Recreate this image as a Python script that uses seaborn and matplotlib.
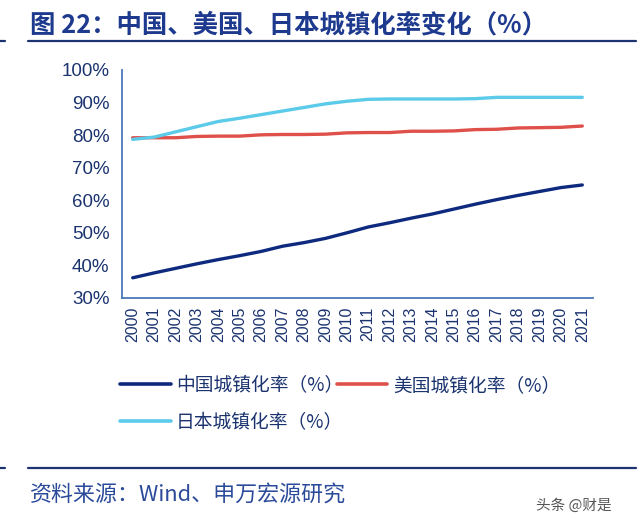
import matplotlib
matplotlib.use("Agg")
import matplotlib.pyplot as plt
import seaborn as sns
import pandas as pd
import numpy as np
from matplotlib.ticker import FixedLocator, PercentFormatter
from matplotlib.lines import Line2D

years = [str(y) for y in range(2000, 2022)]
china = [36.2, 37.7, 39.1, 40.5, 41.8, 43.0, 44.3, 45.9, 47.0, 48.3, 50.0,
         51.8, 53.1, 54.5, 55.8, 57.3, 58.8, 60.2, 61.5, 62.7, 63.9, 64.7]
usa = [79.2, 79.2, 79.2, 79.6, 79.7, 79.7, 80.1, 80.2, 80.2, 80.3, 80.7,
       80.8, 80.8, 81.2, 81.2, 81.3, 81.7, 81.8, 82.2, 82.3, 82.4, 82.8]
japan = [78.7, 79.4, 81.0, 82.6, 84.2, 85.2, 86.3, 87.4, 88.5, 89.6, 90.4,
         91.0, 91.1, 91.1, 91.1, 91.1, 91.2, 91.6, 91.6, 91.6, 91.6, 91.6]
series_names = ["中国城镇化率（%）", "美国城镇化率（%）", "日本城镇化率（%）"]
colors = ["#0D2A7E", "#E0504A", "#5CCBEA"]
title = "图 22：中国、美国、日本城镇化率变化（%）"
source = "资料来源：Wind、申万宏源研究"

df = pd.DataFrame({
    "year": years * 3,
    "value": china + usa + japan,
    "series": [series_names[0]] * len(years) + [series_names[1]] * len(years) + [series_names[2]] * len(years),
})

sns.set_style("white")
plt.rcParams["font.family"] = ["Noto Sans CJK SC", "DejaVu Sans"]
num_font = ["Liberation Sans", "DejaVu Sans"]

W, H = 640, 526
fig = plt.figure(figsize=(W / 100, H / 100), dpi=100)
ax = fig.add_axes([122 / W, 1 - 298 / H, (593 - 122) / W, (298 - 70) / H])

sns.lineplot(data=df, x="year", y="value", hue="series", palette=colors,
             hue_order=series_names, linewidth=2.4, ax=ax, legend=False, sort=False)

axis_c = "#4A78B8"
text_c = "#1B3470"
ax.set_ylim(30, 100)
ax.set_xlim(-0.5, len(years) - 0.5)
ax.set_yticks(np.arange(30, 101, 10))
ax.yaxis.set_major_formatter(PercentFormatter(decimals=0))
ax.set_xticks(range(len(years)))
ax.set_xticklabels(years, rotation=90)
ax.xaxis.set_minor_locator(FixedLocator(np.arange(-0.5, len(years), 1)))
ax.tick_params(axis="x", which="major", length=0, pad=6, labelsize=11.5, labelcolor=text_c)
ax.tick_params(axis="x", which="minor", length=5, width=1.2, color=axis_c, direction="out")
ax.tick_params(axis="y", which="major", length=5, width=1.2, color=axis_c, direction="out",
               labelsize=13.5, labelcolor=text_c, pad=4)
for lab in ax.get_xticklabels() + ax.get_yticklabels():
    lab.set_family(num_font)
for s in ["top", "right"]:
    ax.spines[s].set_visible(False)
for s in ["left", "bottom"]:
    ax.spines[s].set_color(axis_c)
    ax.spines[s].set_linewidth(1.3)
ax.set_xlabel("")
ax.set_ylabel("")
ax.grid(False)

# legend (row-wise order: China, US / Japan)
order = [0, 2, 1]
handles = [Line2D([0], [0], color=colors[i], lw=2.6) for i in order]
labels = [series_names[i] for i in order]
leg = fig.legend(handles, labels, ncol=2, loc="upper left",
                 bbox_to_anchor=(103 / W, 1 - 358 / H), frameon=False,
                 fontsize=13.5, handlelength=2.7, handletextpad=0.3,
                 columnspacing=-0.35, labelspacing=0.85)
for t in leg.get_texts():
    t.set_color(text_c)

# title and rules
title_c = "#1E3A8E"
fig.text(30 / W, 1 - 25 / H, title, fontsize=18.3, fontweight="bold", color=title_c,
         va="center", ha="left")
rule_c = "#1E3372"
for yy in (41, 468):
    fig.add_artist(Line2D([28 / W, 636 / W], [1 - yy / H, 1 - yy / H], color=rule_c, lw=1.6))
    fig.add_artist(Line2D([0 / W, 5 / W], [1 - yy / H, 1 - yy / H], color=rule_c, lw=1.6))
fig.text(30 / W, 1 - 495 / H, source, fontsize=15.8, color="#2B4A9A", va="center", ha="left")
fig.text(612 / W, 1 - 506 / H, "头条 @财是", fontsize=10.5, color="#555555", va="center", ha="right")

fig.savefig("out.png", dpi=100, facecolor="white")
